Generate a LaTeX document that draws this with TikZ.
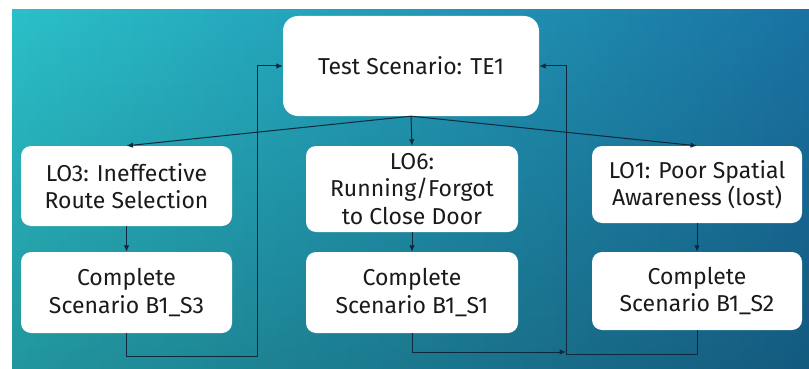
\documentclass[tikz,border=0pt]{standalone}
\usepackage{fontspec}
\setmainfont{Fira Sans}
\usetikzlibrary{arrows.meta,fadings}

\definecolor{bgleft}{HTML}{2BC0C9}
\definecolor{bgright}{HTML}{1A73A3}
\definecolor{wire}{HTML}{10283C}
\definecolor{ink}{HTML}{1A1A1A}

\tikzset{
  box/.style={fill=white, rounded corners=10pt, align=center, text=ink,
    font=\fontsize{23}{27.5}\selectfont, inner sep=0pt},
  link/.style={draw=wire, line width=1pt,
    -{Latex[length=6.5pt,width=5.5pt]}},
}

\begin{document}
\begin{tikzpicture}[x=1pt,y=-1pt]
  \useasboundingbox (0,0) rectangle (809,369);

  % backdrop
  \shade[left color=bgleft, right color=bgright] (12,10) rectangle (809,369);
  \fill[black, fill opacity=0.22, path fading=north] (12,10) rectangle (809,369);

  % boxes
  \node[box, rounded corners=15pt, minimum width=256pt, minimum height=100pt]
    (test) at (411,66) {Test Scenario: TE1};

  \node[box, minimum width=211pt, minimum height=80pt]
    (lo3) at (126.5,186) {LO3: Ineffective\\Route Selection};
  \node[box, minimum width=211pt, minimum height=81pt]
    (s3) at (126.5,292.5) {Complete\\Scenario B1\_S3};

  \node[box, minimum width=212pt, minimum height=86pt]
    (lo6) at (412,189) {LO6:\\Running/Forgot\\to Close Door};
  \node[box, minimum width=212pt, minimum height=81pt]
    (s1) at (412,292.5) {Complete\\Scenario B1\_S1};

  \node[box, minimum width=210pt, minimum height=77pt]
    (lo1) at (697,184.5) {LO1: Poor Spatial\\Awareness (lost)};
  \node[box, minimum width=210pt, minimum height=78pt]
    (s2) at (697,291) {Complete\\Scenario B1\_S2};

  % branches from the test scenario
  \draw[link] (test.south) -- (lo3.north);
  \draw[link] (test.south) -- (lo6.north);
  \draw[link] (test.south) -- (lo1.north);

  % outcomes to completion
  \draw[link] (lo3) -- (s3);
  \draw[link] (lo6) -- (s1);
  \draw[link] (lo1) -- (s2);

  % return loops
  \coordinate (leftrail) at (257,356);
  \coordinate (rightrail) at (566,354);
  \draw[link] (s3.south) |- (leftrail) |- (test.west);
  \draw[link] (s2.south) |- (rightrail) |- (test.east);
  \coordinate (midjoin) at (566,352);
  \draw[link] (s1.south) |- (midjoin);
\end{tikzpicture}
\end{document}
